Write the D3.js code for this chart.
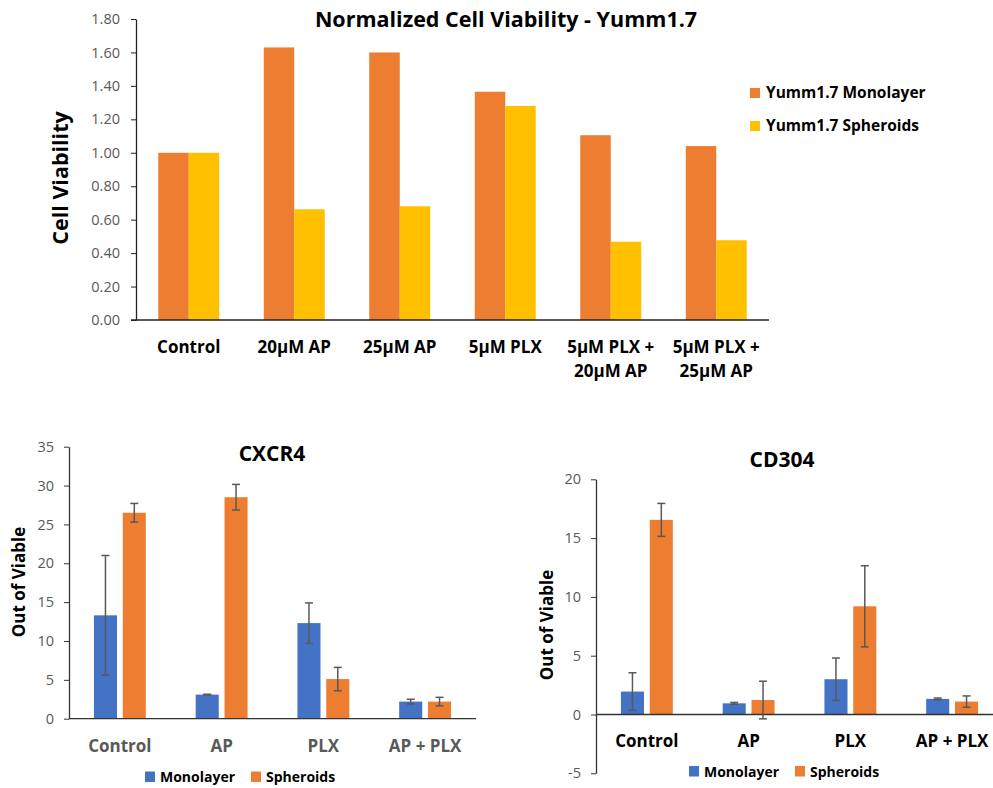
<!DOCTYPE html>
<html>
<head>
<meta charset="utf-8">
<script src="https://cdn.jsdelivr.net/npm/d3@7"></script>
<style>
  body { margin: 0; background: #fff; }
  svg { display: block; font-family: "Open Sans", sans-serif; }
</style>
</head>
<body>
<script>
const svgWidth = 993;
const svgHeight = 788;

// top chart data
const viabilityCats = ["Control", "20µM AP", "25µM AP", "5µM PLX", "5µM PLX +\n20µM AP", "5µM PLX +\n25µM AP"];
const viabilityMono = [1.00, 1.63, 1.60, 1.365, 1.105, 1.04];
const viabilitySph = [1.00, 0.662, 0.68, 1.28, 0.468, 0.477];
const viabilityTicks = [0, 0.2, 0.4, 0.6, 0.8, 1.0, 1.2, 1.4, 1.6, 1.8];
const viabilitySeries = ["Yumm1.7 Monolayer", "Yumm1.7 Spheroids"];

// bottom charts data
const markerCats = ["Control", "AP", "PLX", "AP + PLX"];
const markerSeries = ["Monolayer", "Spheroids"];
const cxcr4Mono = [13.3, 3.1, 12.3, 2.2];
const cxcr4MonoErr = [7.7, 0.05, 2.6, 0.3];
const cxcr4Sph = [26.5, 28.5, 5.1, 2.2];
const cxcr4SphErr = [1.2, 1.65, 1.5, 0.55];
const cxcr4Ticks = [0, 5, 10, 15, 20, 25, 30, 35];
const cd304Mono = [1.95, 0.95, 3.0, 1.33];
const cd304MonoErr = [1.6, 0.08, 1.8, 0.07];
const cd304Sph = [16.55, 1.23, 9.2, 1.1];
const cd304SphErr = [1.4, 1.6, 3.45, 0.48];
const cd304Ticks = [-5, 0, 5, 10, 15, 20];

const orange = "#ED7D31";
const yellow = "#FFC000";
const blue = "#4472C4";
const grey = "#595959";
const errColor = "#595959";

const svg = d3.select("body").append("svg")
            .attr("width", svgWidth)
            .attr("height", svgHeight);

drawViability();
drawMarker({
  title: "CXCR4", titleX: 272, titleY: 461,
  x0: 69, x1: 476, yTop: 446.7, yBottom: 718.7,
  domain: [0, 35], ticks: cxcr4Ticks,
  mono: cxcr4Mono, monoErr: cxcr4MonoErr, sph: cxcr4Sph, sphErr: cxcr4SphErr,
  labelColor: grey, labelY: 752,
  ylabX: 25, ylabY: 582,
  legendX: 145, legendY: 782
});
drawMarker({
  title: "CD304", titleX: 782, titleY: 467,
  x0: 596, x1: 1003, yTop: 479.3, yBottom: 773.3,
  domain: [-5, 20], ticks: cd304Ticks,
  mono: cd304Mono, monoErr: cd304MonoErr, sph: cd304Sph, sphErr: cd304SphErr,
  labelColor: "#000", labelY: 747,
  ylabX: 553, ylabY: 625,
  legendX: 689, legendY: 776.5
});

function drawViability() {
  const g = svg.append("g");
  const xScale = d3.scaleBand().domain(viabilityCats).range([136, 769])
                   .paddingInner(0.422).paddingOuter(0.211);
  const inner = d3.scaleBand().domain([0, 1]).range([0, xScale.bandwidth()]);
  const yScale = d3.scaleLinear().domain([0, 1.8]).range([320, 19]);

  const y_axis = d3.axisLeft(yScale).tickValues(viabilityTicks)
                   .tickFormat(d3.format(".2f")).tickSize(5).tickSizeOuter(0);
  const ax = g.append("g").attr("transform", "translate(136,0)").call(y_axis);
  ax.select(".domain").attr("stroke", "#222").attr("stroke-width", 1.3);
  ax.selectAll(".tick line").attr("stroke", "#222");
  ax.selectAll(".tick text").attr("fill", grey).style("font-size", "14.5px")
    .style("font-family", "Open Sans").attr("x", -16);

  const series = [viabilityMono, viabilitySph];
  const colors = [orange, yellow];
  series.forEach(function(vals, s) {
    g.selectAll(null).data(vals).enter().append("rect")
     .attr("x", (d, i) => xScale(viabilityCats[i]) + inner(s))
     .attr("y", d => yScale(d))
     .attr("width", inner.bandwidth())
     .attr("height", d => yScale(0) - yScale(d))
     .attr("fill", colors[s]);
  });

  // x axis line
  g.append("line").attr("x1", 131).attr("x2", 769)
   .attr("y1", yScale(0)).attr("y2", yScale(0))
   .attr("stroke", "#222").attr("stroke-width", 1.3);

  viabilityCats.forEach(function(c) {
    const t = g.append("text")
               .attr("x", xScale(c) + xScale.bandwidth() / 2)
               .attr("y", 353)
               .attr("text-anchor", "middle")
               .style("font-weight", "bold").style("font-size", "17px");
    c.split("\n").forEach(function(line, k) {
      t.append("tspan").attr("x", xScale(c) + xScale.bandwidth() / 2)
       .attr("dy", k ? 24 : 0).text(line);
    });
  });

  g.append("text").attr("x", 506).attr("y", 27).attr("text-anchor", "middle")
   .style("font-weight", "bold").style("font-size", "21.5px")
   .text("Normalized Cell Viability - Yumm1.7");

  g.append("text").attr("transform", "translate(68,178) rotate(-90)")
   .attr("text-anchor", "middle")
   .style("font-weight", "bold").style("font-size", "21.5px")
   .text("Cell Viability");

  viabilitySeries.forEach(function(name, i) {
    g.append("rect").attr("x", 750).attr("y", 88 + i * 33)
     .attr("width", 10).attr("height", 10).attr("fill", colors[i]);
    g.append("text").attr("x", 766).attr("y", 98 + i * 33)
     .style("font-weight", "bold").style("font-size", "15.5px")
     .text(name);
  });
}

function drawMarker(cfg) {
  const g = svg.append("g");
  const xScale = d3.scaleBand().domain(markerCats).range([cfg.x0, cfg.x1])
                   .paddingInner(0.49).paddingOuter(0.245);
  const inner = d3.scaleBand().domain([0, 1]).range([0, xScale.bandwidth()])
                  .paddingInner(0.2).paddingOuter(0);
  const yScale = d3.scaleLinear().domain(cfg.domain).range([cfg.yBottom, cfg.yTop]);

  // plain hyphen for negatives, like the original
  const y_axis = d3.axisLeft(yScale).tickValues(cfg.ticks)
                   .tickFormat(d => String(d)).tickSize(5).tickSizeOuter(0);
  const ax = g.append("g").attr("transform", "translate(" + cfg.x0 + ",0)").call(y_axis);
  ax.select(".domain").attr("stroke", "#333").attr("stroke-width", 1.3);
  ax.selectAll(".tick line").attr("stroke", "#333");
  ax.selectAll(".tick text").attr("fill", grey).style("font-size", "14.5px")
    .style("font-family", "Open Sans").attr("x", -15);

  const series = [[cfg.mono, cfg.monoErr], [cfg.sph, cfg.sphErr]];
  const colors = [blue, orange];
  series.forEach(function(pair, s) {
    const vals = pair[0];
    g.selectAll(null).data(vals).enter().append("rect")
     .attr("x", (d, i) => xScale(markerCats[i]) + inner(s))
     .attr("y", d => yScale(d))
     .attr("width", inner.bandwidth())
     .attr("height", d => yScale(0) - yScale(d))
     .attr("fill", colors[s]);
  });

  // zero line
  g.append("line").attr("x1", cfg.x0).attr("x2", cfg.x1)
   .attr("y1", yScale(0)).attr("y2", yScale(0))
   .attr("stroke", "#333").attr("stroke-width", 1.3);

  // error bars
  series.forEach(function(pair, s) {
    const vals = pair[0], errs = pair[1];
    vals.forEach(function(v, i) {
      const cx = xScale(markerCats[i]) + inner(s) + inner.bandwidth() / 2;
      const lo = yScale(v - errs[i]), hi = yScale(v + errs[i]);
      g.append("line").attr("x1", cx).attr("x2", cx).attr("y1", lo).attr("y2", hi)
       .attr("stroke", errColor).attr("stroke-width", 1.5);
      [lo, hi].forEach(function(yy) {
        g.append("line").attr("x1", cx - 4).attr("x2", cx + 4).attr("y1", yy).attr("y2", yy)
         .attr("stroke", errColor).attr("stroke-width", 1.5);
      });
    });
  });

  markerCats.forEach(function(c) {
    g.append("text").attr("x", xScale(c) + xScale.bandwidth() / 2)
     .attr("y", cfg.labelY).attr("text-anchor", "middle")
     .attr("fill", cfg.labelColor)
     .style("font-weight", "bold").style("font-size", "17px").text(c);
  });

  g.append("text").attr("x", cfg.titleX).attr("y", cfg.titleY).attr("text-anchor", "middle")
   .style("font-weight", "bold").style("font-size", "21px").text(cfg.title);

  g.append("text").attr("transform", "translate(" + cfg.ylabX + "," + cfg.ylabY + ") rotate(-90)")
   .attr("text-anchor", "middle")
   .style("font-weight", "bold").style("font-size", "17px").text("Out of Viable");

  const legend = g.append("g").attr("transform", "translate(" + cfg.legendX + "," + cfg.legendY + ")");
  const offsets = [0, 106];
  markerSeries.forEach(function(name, i) {
    legend.append("rect").attr("x", offsets[i]).attr("y", -10.5)
          .attr("width", 10).attr("height", 10.5).attr("fill", colors[i]);
    legend.append("text").attr("x", offsets[i] + 15).attr("y", 0)
          .style("font-weight", "bold").style("font-size", "14px").text(name);
  });
}
</script>
</body>
</html>
